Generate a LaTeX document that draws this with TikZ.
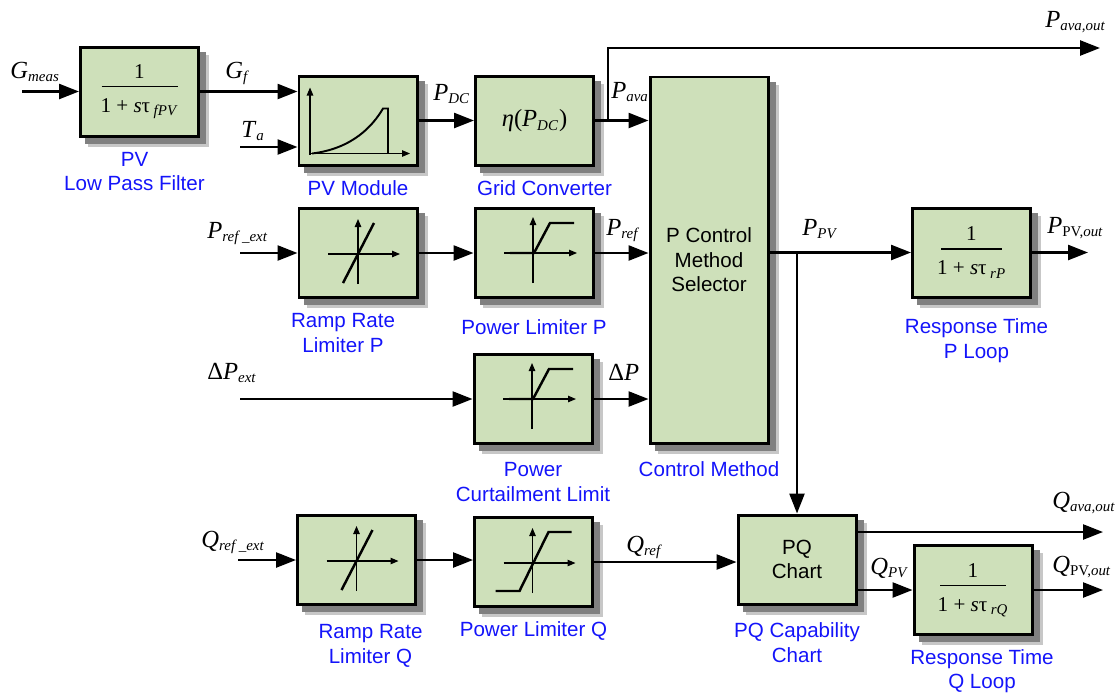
\documentclass[tikz,border=0pt]{standalone}
\usepackage{fontspec}
\setmainfont{Liberation Serif}
\setsansfont{Liberation Sans}
\usepackage{tikz}
\usetikzlibrary{arrows.meta,positioning,backgrounds,calc}
\definecolor{blkfill}{HTML}{CEE0BA}
\definecolor{lblblue}{RGB}{20,20,250}
\newcommand{\subsz}{\fontsize{8.5}{10}\selectfont}
\newcommand{\sg}[2]{\textit{#1}\textsubscript{\subsz\textit{#2}}}
\newcommand{\lagfrac}[2]{1\\[-9.3pt]\rule{#2}{0.9pt}\\[-0.2pt]1 + \textit{s}τ\,\textsubscript{\subsz\textit{#1}}}

\begin{document}
\begin{tikzpicture}[
  x=0.2mm, y=-0.2mm,
  blk/.style={draw, line width=1.7pt, fill=blkfill, minimum width=23.6mm, minimum height=17.8mm, align=center, font=\sffamily\fontsize{11.7}{14}\selectfont, inner sep=1pt},
  frc/.style={font=\rmfamily\fontsize{12}{14.4}\selectfont},
  arr/.style={-{Triangle[length=4mm,width=3mm]}, line width=1.4pt},
  ax/.style={-{Triangle[length=1.6mm,width=1.3mm]}, line width=0.6pt},
  crv/.style={line width=1.4pt},
  lbl/.style={font=\sffamily\fontsize{11.7}{14}\selectfont, text=lblblue, align=center, inner sep=0pt},
  sig/.style={font=\rmfamily\fontsize{14}{17}\selectfont, inner sep=0pt, anchor=base west}
]
\useasboundingbox (0,0) rectangle (1119,693);

\node[blk, frc] (lpf) at (139.5,91.5) {\lagfrac{fPV}{15.2mm}};
\node[blk] (pvm) at (358,120.5) {};
\node[blk, font=\rmfamily\fontsize{14}{17}\selectfont] (gcv) at (534.5,120.5) {\textit{η}(\sg{P}{DC})};
\node[blk, minimum height=73.2mm] (pcm) at (709,260) {P Control\\Method\\Selector};
\node[blk] (rrp) at (358,253) {};
\node[blk] (plp) at (534,253) {};
\node[blk] (pcl) at (533,399) {};
\node[blk] (rrq) at (356.5,560) {};
\node[blk] (plq) at (533.5,562) {};
\node[blk] (pq) at (797,559.5) {PQ\\Chart};
\node[blk, frc] (rtp) at (971.5,252.5) {\lagfrac{rP}{12.2mm}};
\node[blk, frc] (rtq) at (973,590) {\lagfrac{rQ}{13.2mm}};

\begin{scope}[on background layer]
  \foreach \b in {lpf,pvm,gcv,pcm,rrp,plp,pcl,rrq,plq,pq,rtp,rtq}{
    \fill[black!22] ($(\b.south west)+(9,9)$) rectangle ($(\b.north east)+(9,9)$);
    \fill[black!50] ($(\b.south west)+(6,6)$) rectangle ($(\b.north east)+(6,6)$);}
\end{scope}

\node[lbl, below=2.8mm of lpf, xshift=-1mm] (lpflbl) {PV\\Low Pass Filter};
\node[lbl, below=2.8mm of pvm] (pvmlbl) {PV Module};
\node[lbl, below=2.8mm of gcv, xshift=2mm] (gcvlbl) {Grid Converter};
\node[lbl, below=3.4mm of pcm] (pcmlbl) {Control Method};
\node[lbl, below=2.8mm of rrp, xshift=-3mm] (rrplbl) {Ramp Rate\\Limiter P};
\node[lbl, below=4mm of plp] (plplbl) {Power Limiter P};
\node[lbl, below=3.4mm of pcl] (pcllbl) {Power\\Curtailment Limit};
\node[lbl, below=3.6mm of rrq, xshift=2.8mm] (rrqlbl) {Ramp Rate\\Limiter Q};
\node[lbl, below=2.6mm of plq] (plqlbl) {Power Limiter Q};
\node[lbl, below=3.4mm of pq] (pqlbl) {PQ Capability\\Chart};
\node[lbl, below=4mm of rtp, xshift=1mm] (rtplbl) {Response Time\\P Loop};
\node[lbl, below=2.6mm of rtq, xshift=1.8mm] (rtqlbl) {Response Time\\Q Loop};

\begin{scope}[shift={(pvm)}]
  \draw[ax] (-48,34) -- (-48,-33);
  \draw[ax] (-48,33) -- (52,33);
  \draw[line width=1.1pt] (-46,33) .. controls (-5,28) and (15,5) .. (25,-12) -- (30,-12) -- (30,33);
\end{scope}
\foreach \b in {rrp,rrq}{
  \begin{scope}[shift={(\b)}]
    \draw[ax] (0,31) -- (0,-34);
    \draw[ax] (-30,1) -- (42,1);
    \draw[crv] (-15,30) -- (16,-30);
  \end{scope}}
\foreach \b in {plp,pcl}{
  \begin{scope}[shift={(\b)}]
    \draw[ax] (-1,30) -- (-1,-36);
    \draw[ax] (-30,0) -- (43,0);
    \draw[crv] (-24,0) -- (0,0) -- (16,-30) -- (40,-30);
  \end{scope}}
\begin{scope}[shift={(plq)}]
  \draw[ax] (-1,31) -- (-1,-34);
  \draw[ax] (-30,1) -- (42,1);
  \draw[crv] (-38,29) -- (-14,29) -- (15,-30) -- (38,-30);
\end{scope}

\coordinate (gin) at (22,91.5);
\coordinate (tain) at (240,147);
\coordinate (pavabr) at (608,120.5);
\coordinate (pavaout) at (1100,48);
\coordinate (prin) at (240,253);
\coordinate (dpin) at (240,399);
\coordinate (qrin) at (238,560);
\coordinate (ppvout) at (1088,252.5);
\coordinate (qavaout) at (1103,532);
\coordinate (qpvout) at (1103,590);

\draw[arr] (gin) -- (lpf);
\draw[arr] (lpf) -- (lpf -| pvm.west);
\draw[arr] (tain) -- (tain -| pvm.west);
\draw[arr] (pvm) -- (gcv);
\draw[arr] (gcv) -- (gcv -| pcm.west);
\draw[arr] (pavabr) |- (pavaout);
\draw[arr] (prin) -- (rrp);
\draw[arr] (rrp) -- (plp);
\draw[arr] (plp) -- (plp -| pcm.west);
\draw[arr] (dpin) -- (pcl);
\draw[arr] (pcl) -- (pcl -| pcm.west);
\draw[arr] (qrin) -- (rrq);
\draw[arr] (rrq) -- (rrq -| plq.west);
\draw[arr] (plq) -- (plq -| pq.west);
\draw[arr] (pcm.east |- rtp) -- (rtp);
\draw[arr] (pq |- rtp) -- (pq);
\draw[arr] (rtp) -- (ppvout);
\draw[arr] (qavaout -| pq.east) -- (qavaout);
\draw[arr] (pq.east |- rtq) -- (rtq);
\draw[arr] (rtq) -- (qpvout);

\node[sig] (gmeas) at (10,78) {\sg{G}{meas}};
\node[sig] (gf) at (225,78) {\sg{G}{f}};
\node[sig] (ta) at (241,137) {\sg{T}{a}};
\node[sig] (pdc) at (433,100) {\sg{P}{DC}};
\node[sig] (pava) at (611,98) {\sg{P}{ava}};
\node[sig] (pavao) at (1045,27) {\sg{P}{ava,out}};
\node[sig] (prefext) at (207,238) {\sg{P}{ref \_ext}};
\node[sig] (pref) at (606,235) {\sg{P}{ref}};
\node[sig] (dpext) at (207,379) {Δ\sg{P}{ext}};
\node[sig] (dp) at (608,380) {Δ\textit{P}};
\node[sig] (qrefext) at (201,547) {\sg{Q}{ref \_ext}};
\node[sig] (qref) at (626,552) {\sg{Q}{ref}};
\node[sig] (ppv) at (802,235) {\sg{P}{PV}};
\node[sig] (ppvo) at (1047,233) {\textit{P}\textsubscript{\subsz PV,\textit{out}}};
\node[sig] (qavao) at (1052,508) {\sg{Q}{ava,out}};
\node[sig] (qpv) at (870,574) {\sg{Q}{PV}};
\node[sig] (qpvo) at (1052,572) {\textit{Q}\textsubscript{\subsz PV,\textit{out}}};
\end{tikzpicture}
\end{document}
